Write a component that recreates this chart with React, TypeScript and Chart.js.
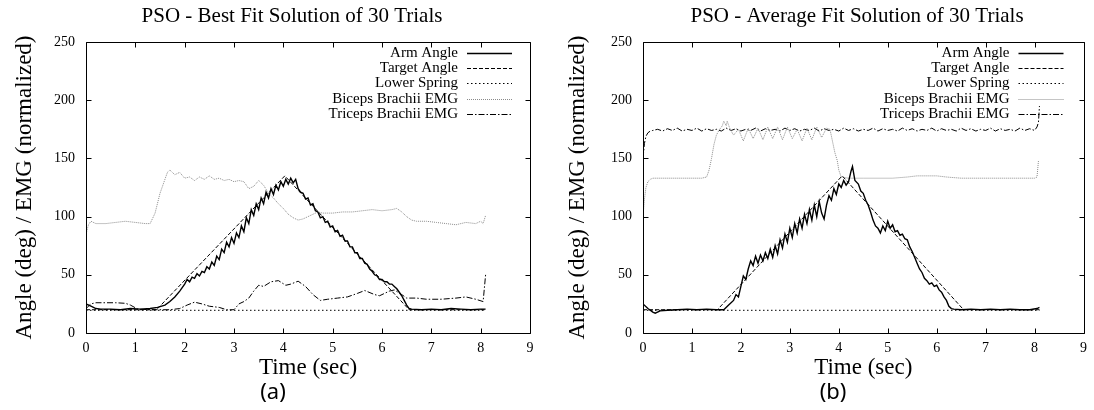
import React, { useEffect, useRef } from 'react';
import { Chart, registerables } from 'chart.js';

Chart.register(...registerables);

const SERIF = "'Liberation Serif', 'Times New Roman', serif";
const SANS = "'Noto Sans', 'DejaVu Sans', sans-serif";

// ---------- axis ticks ----------
const X_MIN = 0;
const X_MAX = 9;
const X_STEP = 1;
const Y_MIN = 0;
const Y_MAX = 250;
const Y_STEP = 50;

const SERIES_LABELS = ['Arm Angle', 'Target Angle', 'Lower Spring', 'Biceps Brachii EMG', 'Triceps Brachii EMG'];

// ---------- panel (a): best fit ----------
const A_ARM_T = [0, 0.1, 0.2, 0.3, 0.5, 0.7, 0.9, 1.1, 1.3, 1.45,
  1.6, 1.7, 1.8, 1.9, 2.0, 2.05, 2.1, 2.15, 2.2, 2.25,
  2.3, 2.35, 2.4, 2.45, 2.5, 2.55, 2.6, 2.65, 2.7, 2.75,
  2.8, 2.85, 2.9, 2.95, 3.0, 3.05, 3.1, 3.15, 3.2, 3.25,
  3.3, 3.35, 3.4, 3.45, 3.5, 3.55, 3.6, 3.65, 3.7, 3.75,
  3.8, 3.85, 3.9, 3.95, 4.0, 4.05, 4.1, 4.15, 4.2, 4.25,
  4.3, 4.35, 4.4, 4.45, 4.5, 4.55, 4.6, 4.65, 4.7, 4.75,
  4.8, 4.85, 4.9, 4.95, 5.0, 5.05, 5.1, 5.15, 5.2, 5.25,
  5.3, 5.35, 5.4, 5.45, 5.5, 5.55, 5.6, 5.65, 5.7, 5.75,
  5.8, 5.85, 5.9, 5.95, 6.0, 6.05, 6.1, 6.15, 6.2, 6.25,
  6.3, 6.35, 6.4, 6.45, 6.5, 6.55, 6.6, 6.8, 7.0, 7.2,
  7.4, 7.6, 7.8, 8.0, 8.1];
const A_ARM_V = [25, 23, 21, 20.5, 20.5, 20, 21, 20.5, 21, 22,
  24, 27, 31, 36, 42, 46, 44, 48, 47, 51,
  49, 53, 52, 57, 55, 61, 58, 66, 63, 72,
  69, 78, 74, 82, 77, 86, 82, 92, 87, 99,
  94, 106, 101, 111, 106, 116, 111, 121, 116, 124,
  119, 127, 123, 130, 126, 132, 128, 133, 129, 132,
  124, 121, 120, 115, 116, 110, 111, 105, 104, 99,
  100, 95, 96, 91, 92, 87, 88, 83, 84, 79,
  79, 74, 74, 69, 69, 64, 64, 60, 59, 55,
  53, 50, 49, 46, 46, 44, 44, 42, 42, 40,
  38, 35, 32, 28, 24, 21, 20.5, 20, 20.5, 20,
  21, 20.5, 20, 20.5, 20.5];

const A_TGT_T = [0, 1.43, 4.03, 6.55, 8.1];
const A_TGT_V = [20, 20, 135, 20, 20];

const A_SPR_T = [0, 8.1];
const A_SPR_V = [19.5, 19.5];

const A_BIC_T = [0, 0.05, 0.1, 0.2, 0.4, 0.6, 0.8, 1.0, 1.2, 1.3,
  1.4, 1.5, 1.6, 1.65, 1.7, 1.8, 1.9, 2.0, 2.1, 2.2,
  2.3, 2.4, 2.5, 2.6, 2.7, 2.8, 2.9, 3.0, 3.1, 3.2,
  3.3, 3.4, 3.5, 3.6, 3.7, 3.8, 3.9, 4.0, 4.1, 4.2,
  4.3, 4.4, 4.5, 4.6, 4.7, 4.8, 5.0, 5.2, 5.4, 5.6,
  5.8, 6.0, 6.2, 6.3, 6.4, 6.5, 6.6, 6.7, 6.9, 7.1,
  7.3, 7.5, 7.7, 7.9, 8.0, 8.05, 8.1];
const A_BIC_V = [85, 93, 96, 94, 94, 95, 96, 95, 94, 94,
  103, 120, 132, 138, 140, 136, 138, 133, 134, 131,
  134, 132, 135, 132, 133, 131, 132, 130, 131, 130,
  124, 126, 131, 127, 120, 116, 111, 107, 102, 99,
  97, 98, 100, 102, 104, 103, 103, 104, 104, 105,
  106, 105, 106, 107, 104, 100, 97, 96, 96, 95,
  94, 93, 95, 94, 96, 94, 101];

const A_TRI_T = [0, 0.1, 0.2, 0.4, 0.6, 0.8, 0.9, 1.05, 1.3, 1.5,
  1.7, 1.9, 2.05, 2.2, 2.35, 2.5, 2.7, 2.85, 3.0, 3.1,
  3.2, 3.3, 3.4, 3.5, 3.6, 3.75, 3.9, 4.05, 4.15, 4.3,
  4.45, 4.6, 4.75, 4.9, 5.1, 5.3, 5.5, 5.65, 5.85, 5.95,
  6.15, 6.25, 6.4, 6.5, 6.7, 6.9, 7.2, 7.5, 7.7, 7.9,
  8.05, 8.1];
const A_TRI_V = [21, 25, 26, 26, 26, 25.5, 24, 20.5, 20, 20,
  20, 21, 24, 26.5, 25, 23, 22, 20, 20, 25,
  27, 30, 36, 41, 40, 44, 45, 41, 42, 44.5,
  40, 33, 28, 29, 30, 31, 34, 36.5, 33, 32,
  36, 37, 33, 30, 30, 29, 29, 30, 31, 29,
  27, 50];

// ---------- panel (b): average fit ----------
const B_ARM_T = [0, 0.1, 0.2, 0.25, 0.35, 0.5, 0.7, 0.9, 1.1, 1.3,
  1.5, 1.65, 1.75, 1.85, 1.9, 1.95, 2.0, 2.05, 2.1, 2.15,
  2.2, 2.25, 2.3, 2.35, 2.4, 2.45, 2.5, 2.55, 2.6, 2.65,
  2.7, 2.75, 2.8, 2.85, 2.9, 2.95, 3.0, 3.05, 3.1, 3.15,
  3.2, 3.25, 3.3, 3.35, 3.4, 3.45, 3.5, 3.55, 3.6, 3.65,
  3.7, 3.75, 3.8, 3.85, 3.9, 3.95, 4.0, 4.05, 4.1, 4.15,
  4.2, 4.25, 4.28, 4.33, 4.4, 4.45, 4.5, 4.55, 4.6, 4.65,
  4.7, 4.75, 4.8, 4.85, 4.9, 4.95, 5.0, 5.05, 5.1, 5.15,
  5.2, 5.25, 5.3, 5.35, 5.4, 5.45, 5.5, 5.55, 5.6, 5.65,
  5.7, 5.75, 5.8, 5.85, 5.9, 5.95, 6.0, 6.05, 6.1, 6.15,
  6.2, 6.25, 6.3, 6.35, 6.5, 6.7, 6.9, 7.1, 7.3, 7.5,
  7.7, 7.9, 8.05, 8.1];
const B_ARM_V = [25, 21, 18, 17, 19, 19.5, 20, 20.5, 20, 20.5,
  20, 20, 24, 28, 33, 31, 40, 49, 46, 55,
  62, 58, 66, 60, 67, 62, 69, 64, 72, 65,
  75, 68, 80, 73, 85, 78, 90, 82, 94, 86,
  98, 90, 102, 94, 106, 97, 110, 100, 113, 103,
  98, 110, 118, 114, 124, 119, 128, 125, 131, 127,
  130, 139, 143, 131, 128, 122, 120, 114, 110, 104,
  97, 92, 90, 86, 92, 88, 96, 90, 93, 87,
  88, 84, 85, 81, 80, 74, 70, 65, 60, 55,
  52, 47, 45, 42, 43, 40, 41, 37, 35, 31,
  28, 23, 21, 20.5, 20, 20.5, 20, 20.5, 20, 20.5,
  20, 20, 21, 22];

const B_TGT_T = [0, 1.52, 4.07, 6.55, 8.1];
const B_TGT_V = [20, 20, 135, 20, 20];

const B_SPR_T = [0, 8.1];
const B_SPR_V = [19.5, 19.5];

const B_BIC_T = [0, 0.03, 0.06, 0.1, 0.15, 0.2, 0.4, 0.6, 0.8, 1.0,
  1.2, 1.3, 1.35, 1.4, 1.45, 1.5, 1.55, 1.62, 1.65, 1.7,
  1.72, 1.78, 1.85, 1.95, 2.05, 2.15, 2.25, 2.35, 2.45, 2.55,
  2.65, 2.75, 2.85, 2.95, 3.05, 3.15, 3.25, 3.35, 3.45, 3.55,
  3.65, 3.75, 3.82, 3.87, 3.92, 3.97, 4.0, 4.05, 4.2, 4.5,
  4.8, 5.1, 5.4, 5.6, 5.7, 6.0, 6.2, 6.5, 6.8, 7.1,
  7.4, 7.7, 8.0, 8.05, 8.08];
const B_BIC_V = [100, 115, 125, 130, 132, 133, 133, 133, 133, 133,
  133, 134, 140, 150, 162, 170, 174, 178, 182, 178,
  182, 175, 170, 175, 165, 176, 167, 176, 166, 177,
  167, 177, 166, 177, 167, 175, 165, 176, 166, 177,
  168, 176, 175, 165, 155, 148, 140, 134, 133, 133,
  133, 133, 134, 135, 135, 135, 134, 133, 133, 133,
  133, 133, 133, 134, 148];

const B_TRI_T = [0, 0.03, 0.06, 0.1, 0.15, 0.2, 0.3, 0.4, 0.5, 0.6,
  0.7, 0.8, 0.9, 1.0, 1.1, 1.2, 1.3, 1.4, 1.5, 1.6,
  1.7, 1.8, 1.9, 2.0, 2.1, 2.2, 2.3, 2.4, 2.5, 2.6,
  2.7, 2.8, 2.9, 3.0, 3.1, 3.2, 3.3, 3.4, 3.5, 3.6,
  3.7, 3.8, 3.9, 4.0, 4.1, 4.2, 4.3, 4.4, 4.5, 4.6,
  4.7, 4.8, 4.9, 5.0, 5.1, 5.2, 5.3, 5.4, 5.5, 5.6,
  5.7, 5.8, 5.9, 6.0, 6.1, 6.2, 6.3, 6.4, 6.5, 6.6,
  6.7, 6.8, 6.9, 7.0, 7.1, 7.2, 7.3, 7.4, 7.5, 7.6,
  7.7, 7.8, 7.9, 8.0, 8.05, 8.08, 8.1];
const B_TRI_V = [150, 163, 169, 172, 173.5, 174, 175, 173.5, 175.5, 174,
  176, 173.5, 175, 174, 176, 173.5, 175.5, 174, 175, 173.5,
  176, 174, 175.5, 173.5, 175, 174, 176, 173.5, 175.5, 174,
  175, 173.5, 176, 174, 175.5, 173.5, 175, 174, 176, 173.5,
  175.5, 174, 175, 173.5, 176, 174, 175.5, 173.5, 175, 174,
  176, 173.5, 175.5, 174, 175, 173.5, 176, 174, 175.5, 173.5,
  175, 174, 176, 173.5, 175.5, 174, 175, 173.5, 176, 174,
  175.5, 173.5, 175, 174, 176, 173.5, 175.5, 174, 175, 173.5,
  176, 174, 175.5, 174, 177, 181, 195];

// ---------- styles ----------
const STYLES = [
  { color: '#000000', width: 1.4, dash: [] as number[] },
  { color: '#000000', width: 1, dash: [4, 2] },
  { color: '#000000', width: 1, dash: [1.5, 2.5] },
  { color: '#8a8a8a', width: 1, dash: [1, 1] },
  { color: '#000000', width: 1, dash: [6, 2, 1.5, 2] },
];

const pts = (t: number[], v: number[]) => t.map((x, i) => ({ x, y: v[i] }));

const gpFrame = {
  id: 'gpFrame',
  afterDraw(chart: any) {
    const { ctx, chartArea: a, scales } = chart;
    const L = Math.round(a.left) + 0.5;
    const R = Math.round(a.right) + 0.5;
    const T = Math.round(a.top) + 0.5;
    const B = Math.round(a.bottom) + 0.5;
    ctx.save();
    ctx.setLineDash([]);
    ctx.strokeStyle = '#000';
    ctx.lineWidth = 1;
    ctx.beginPath();
    ctx.rect(L, T, R - L, B - T);
    const len = 5;
    scales.x.ticks.forEach((tk: any) => {
      const px = Math.round(scales.x.getPixelForValue(tk.value)) + 0.5;
      ctx.moveTo(px, B); ctx.lineTo(px, B - len);
      ctx.moveTo(px, T); ctx.lineTo(px, T + len);
    });
    scales.y.ticks.forEach((tk: any) => {
      const py = Math.round(scales.y.getPixelForValue(tk.value)) + 0.5;
      ctx.moveTo(L, py); ctx.lineTo(L + len, py);
      ctx.moveTo(R, py); ctx.lineTo(R - len, py);
    });
    ctx.stroke();
    ctx.restore();
  },
};

const gpLegend = {
  id: 'gpLegend',
  afterDraw(chart: any, _args: any, opts: any) {
    const { ctx, chartArea } = chart;
    ctx.save();
    ctx.font = `${opts.size}px ${SERIF}`;
    ctx.textAlign = 'right';
    ctx.textBaseline = 'middle';
    ctx.fillStyle = '#000';
    chart.data.datasets.forEach((ds: any, i: number) => {
      const y = Math.round(chartArea.top + opts.top + i * opts.spacing) + 0.5;
      const x2 = chartArea.right - opts.rightGap;
      const x1 = x2 - opts.sample;
      ctx.fillText(ds.label, x1 - opts.gap, y);
      ctx.beginPath();
      ctx.setLineDash(ds.borderDash || []);
      ctx.strokeStyle = ds.borderColor;
      ctx.lineWidth = ds.borderWidth;
      ctx.moveTo(x1, y);
      ctx.lineTo(x2, y);
      ctx.stroke();
    });
    ctx.restore();
  },
};

const gpText = {
  id: 'gpText',
  afterDraw(chart: any, _args: any, opts: any) {
    const { ctx } = chart;
    ctx.save();
    ctx.fillStyle = '#000';
    ctx.textAlign = 'center';
    ctx.textBaseline = 'middle';
    ctx.font = `${opts.titleSize}px ${SERIF}`;
    ctx.fillText(opts.title, opts.titleX, opts.titleY);
    ctx.font = `${opts.tagSize}px ${SANS}`;
    ctx.fillText(opts.tag, opts.tagX, opts.tagY);
    ctx.restore();
  },
};

type PanelProps = {
  title: string;
  tag: string;
  series: { t: number[]; v: number[] }[];
  yAxisWidth: number;
  yTitlePad: number;
  rightPad: number;
  legendRightGap: number;
  titleX: number;
  tagX: number;
};

function Panel(p: PanelProps) {
  const ref = useRef<HTMLCanvasElement | null>(null);
  useEffect(() => {
    if (!ref.current) return;
    const datasets = p.series.map((s, i) => ({
      label: SERIES_LABELS[i],
      data: pts(s.t, s.v),
      borderColor: STYLES[i].color,
      borderWidth: STYLES[i].width,
      borderDash: STYLES[i].dash,
      pointRadius: 0,
      tension: 0,
      fill: false,
    }));
    const tickFont = { family: SERIF, size: 14 };
    const chart = new Chart(ref.current, {
      type: 'line',
      data: { datasets },
      plugins: [gpFrame, gpLegend, gpText],
      options: {
        animation: false,
        responsive: false,
        maintainAspectRatio: false,
        events: [],
        layout: { padding: { left: 0, right: p.rightPad, top: 42, bottom: 30.4 } },
        plugins: {
          legend: { display: false },
          tooltip: { enabled: false },
          title: { display: false },
          gpLegend: { size: 15, top: 11, spacing: 15.2, rightGap: p.legendRightGap, sample: 45, gap: 9 },
          gpText: { title: p.title, titleX: p.titleX, titleY: 16, titleSize: 21, tag: p.tag, tagX: p.tagX, tagY: 393, tagSize: 22 },
        } as any,
        scales: {
          x: {
            type: 'linear',
            min: X_MIN,
            max: X_MAX,
            afterFit: (s: any) => { s.height = 46.6; },
            ticks: { stepSize: X_STEP, padding: 7, color: '#000', font: tickFont, maxRotation: 0 },
            grid: { display: false, drawTicks: false },
            border: { display: false },
            title: {
              display: true,
              text: 'Time (sec)',
              color: '#000',
              font: { family: SERIF, size: 23, lineHeight: 1 },
              padding: 0,
            },
          },
          y: {
            type: 'linear',
            min: Y_MIN,
            max: Y_MAX,
            afterFit: (s: any) => { s.width = p.yAxisWidth; },
            ticks: { stepSize: Y_STEP, padding: 11, color: '#000', font: tickFont },
            grid: { display: false, drawTicks: false },
            border: { display: false },
            title: {
              display: true,
              text: 'Angle (deg) / EMG (normalized)',
              color: '#000',
              font: { family: SERIF, size: 23, lineHeight: 1 },
              padding: { top: p.yTitlePad, bottom: 0 },
            },
          },
        },
      } as any,
    });
    return () => chart.destroy();
  }, []);
  return <canvas ref={ref} width={547} height={410} style={{ display: 'block', width: 547, height: 410 }} />;
}

export default function App() {
  return (
    <div style={{ position: 'absolute', left: 0, top: 0, width: 1094, height: 410, display: 'flex', background: '#fff' }}>
      <Panel
        title="PSO - Best Fit Solution of 30 Trials"
        tag="(a)"
        series={[
          { t: A_ARM_T, v: A_ARM_V },
          { t: A_TGT_T, v: A_TGT_V },
          { t: A_SPR_T, v: A_SPR_V },
          { t: A_BIC_T, v: A_BIC_V },
          { t: A_TRI_T, v: A_TRI_V },
        ]}
        yAxisWidth={86}
        yTitlePad={13.5}
        rightPad={17}
        legendRightGap={18}
        titleX={292}
        tagX={273}
      />
      <Panel
        title="PSO - Average Fit Solution of 30 Trials"
        tag="(b)"
        series={[
          { t: B_ARM_T, v: B_ARM_V },
          { t: B_TGT_T, v: B_TGT_V },
          { t: B_SPR_T, v: B_SPR_V },
          { t: B_BIC_T, v: B_BIC_V },
          { t: B_TRI_T, v: B_TRI_V },
        ]}
        yAxisWidth={96}
        yTitlePad={19.5}
        rightPad={6}
        legendRightGap={20}
        titleX={310}
        tagX={286}
      />
    </div>
  );
}
